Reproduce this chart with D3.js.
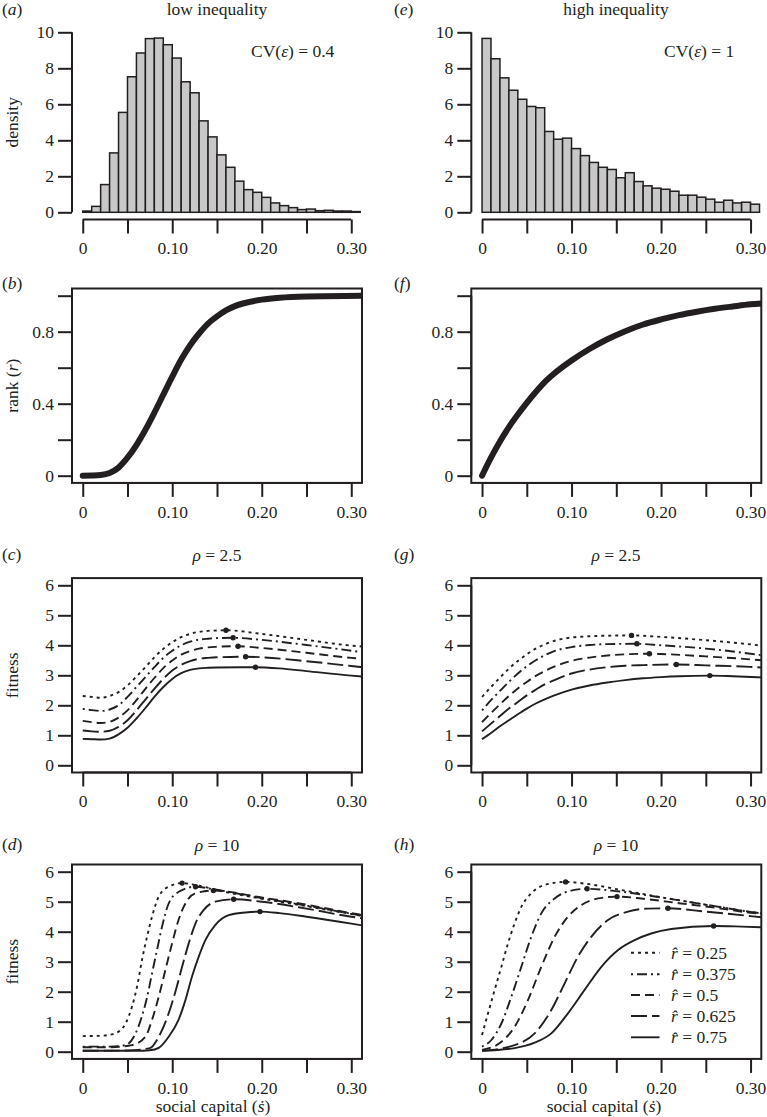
<html>
<script src="https://cdn.jsdelivr.net/npm/d3@7"></script>
<style>
body { margin: 0; background: #fff; }
text { font-family: "Liberation Serif", "DejaVu Serif", serif; fill: #231f20; }
</style>
<body>
</body>
<script>

// ---- data ----

var xTicks = [0, 0.05, 0.10, 0.15, 0.20, 0.25, 0.30];
var xTickLabels = ["0", "", "0.10", "", "0.20", "", "0.30"];
var histTicks = [0, 2, 4, 6, 8, 10];
var rankTicks = [0, 0.2, 0.4, 0.6, 0.8, 1.0];
var rankTickLabels = ["0", "", "0.4", "", "0.8", ""];
var fitTicks = [0, 1, 2, 3, 4, 5, 6];

// histogram bins (left edge, width 0.01)
var binLeft = [0, 0.01, 0.02, 0.03, 0.04, 0.05, 0.06, 0.07, 0.08, 0.09, 0.10, 0.11, 0.12, 0.13, 0.14, 0.15,
  0.16, 0.17, 0.18, 0.19, 0.20, 0.21, 0.22, 0.23, 0.24, 0.25, 0.26, 0.27, 0.28, 0.29, 0.30];
var binWidth = 0.01;
var densLow = [0.07, 0.33, 1.54, 3.3, 5.55, 7.53, 8.85, 9.65, 9.68, 9.31, 8.57, 7.25, 6.64, 5.08, 4.19, 3.19,
  2.5, 1.73, 1.26, 1.11, 0.83, 0.52, 0.37, 0.26, 0.15, 0.18, 0.09, 0.11, 0.07, 0.07, 0.04];
var densHigh = [9.66, 8.53, 7.47, 6.78, 6.28, 5.88, 5.81, 4.49, 4.06, 4.12, 3.54, 3.15, 2.77, 2.5, 2.38, 1.92,
  2.2, 1.71, 1.47, 1.34, 1.28, 1.17, 0.95, 0.95, 0.84, 0.73, 0.56, 0.67, 0.52, 0.56, 0.45];

// rank curves
var rankLowS = [0, 0.01, 0.02, 0.03, 0.04, 0.05, 0.06, 0.07, 0.08, 0.09, 0.10, 0.11, 0.12, 0.13, 0.14, 0.15, 0.16, 0.17, 0.18, 0.20, 0.22, 0.25, 0.312];
var rankLowR = [0, 0.001, 0.004, 0.015, 0.045, 0.1, 0.17, 0.255, 0.35, 0.45, 0.55, 0.645, 0.725, 0.79, 0.845, 0.885, 0.918, 0.942, 0.958, 0.978, 0.989, 0.996, 1.0];
var rankHighS = [0, 0.01, 0.02, 0.03, 0.04, 0.05, 0.06, 0.07, 0.08, 0.10, 0.12, 0.14, 0.16, 0.18, 0.20, 0.22, 0.24, 0.26, 0.28, 0.30, 0.312];
var rankHighR = [0, 0.1, 0.19, 0.27, 0.34, 0.405, 0.465, 0.52, 0.565, 0.64, 0.704, 0.758, 0.803, 0.84, 0.868, 0.892, 0.911, 0.927, 0.94, 0.952, 0.957];

var rHat = ["0.25", "0.375", "0.5", "0.625", "0.75"];

// fitness curves, [s, fitness] per r-hat
var fitC = [
  [[0,2.31],[0.01,2.28],[0.02,2.25],[0.03,2.31],[0.04,2.44],[0.05,2.66],[0.06,2.96],[0.07,3.27],[0.08,3.6],[0.09,3.88],[0.10,4.1],[0.11,4.27],[0.12,4.38],[0.13,4.45],[0.14,4.48],[0.16,4.50],[0.20,4.38],[0.25,4.18],[0.30,3.99],[0.312,3.96]],
  [[0,1.88],[0.01,1.84],[0.02,1.81],[0.03,1.86],[0.04,2.0],[0.05,2.28],[0.06,2.61],[0.07,2.94],[0.08,3.27],[0.09,3.58],[0.10,3.82],[0.11,4.0],[0.12,4.12],[0.13,4.19],[0.14,4.22],[0.15,4.24],[0.168,4.25],[0.20,4.18],[0.25,4.01],[0.30,3.82],[0.312,3.77]],
  [[0,1.48],[0.01,1.44],[0.02,1.41],[0.03,1.45],[0.04,1.59],[0.05,1.83],[0.06,2.17],[0.07,2.55],[0.08,2.91],[0.09,3.24],[0.10,3.49],[0.11,3.69],[0.12,3.81],[0.13,3.89],[0.14,3.93],[0.15,3.95],[0.1735,3.97],[0.20,3.91],[0.25,3.75],[0.30,3.58],[0.312,3.55]],
  [[0,1.16],[0.01,1.13],[0.02,1.12],[0.03,1.15],[0.04,1.28],[0.05,1.5],[0.06,1.83],[0.07,2.19],[0.08,2.55],[0.09,2.88],[0.10,3.16],[0.11,3.35],[0.12,3.47],[0.13,3.55],[0.14,3.58],[0.15,3.6],[0.182,3.62],[0.20,3.6],[0.25,3.47],[0.30,3.31],[0.312,3.27]],
  [[0,0.88],[0.01,0.87],[0.02,0.86],[0.03,0.89],[0.04,1.03],[0.05,1.25],[0.06,1.56],[0.07,1.91],[0.08,2.28],[0.09,2.61],[0.10,2.88],[0.11,3.07],[0.12,3.18],[0.13,3.23],[0.14,3.25],[0.15,3.26],[0.193,3.27],[0.22,3.23],[0.25,3.14],[0.30,2.99],[0.312,2.96]]
];
var fitD = [
  [[0,0.52],[0.02,0.53],[0.036,0.61],[0.048,0.95],[0.055,1.5],[0.0607,2.17],[0.0662,3.06],[0.0718,3.83],[0.0774,4.5],[0.0849,5.17],[0.096,5.5],[0.111,5.62],[0.13,5.53],[0.16,5.32],[0.20,5.1],[0.25,4.85],[0.30,4.59],[0.312,4.53]],
  [[0,0.17],[0.03,0.17],[0.048,0.22],[0.059,0.61],[0.066,1.17],[0.072,1.83],[0.0774,2.61],[0.083,3.39],[0.0886,4.17],[0.096,4.94],[0.1072,5.33],[0.126,5.50],[0.145,5.42],[0.20,5.12],[0.25,4.87],[0.30,4.6],[0.312,4.54]],
  [[0,0.15],[0.03,0.15],[0.055,0.22],[0.07,0.5],[0.0774,1.06],[0.0849,1.83],[0.0923,2.72],[0.0998,3.61],[0.107,4.39],[0.1147,4.94],[0.126,5.28],[0.146,5.37],[0.20,5.14],[0.25,4.9],[0.30,4.62],[0.312,4.56]],
  [[0,0.03],[0.05,0.04],[0.075,0.12],[0.0849,0.5],[0.096,1.28],[0.1035,2.0],[0.111,2.83],[0.1184,3.61],[0.126,4.28],[0.135,4.72],[0.148,5.0],[0.1686,5.08],[0.20,5.0],[0.25,4.77],[0.30,4.5],[0.312,4.45]],
  [[0,0.03],[0.06,0.03],[0.075,0.05],[0.0849,0.13],[0.096,0.5],[0.107,1.06],[0.1147,1.72],[0.122,2.5],[0.1296,3.17],[0.137,3.72],[0.148,4.22],[0.163,4.55],[0.1817,4.64],[0.198,4.67],[0.22,4.62],[0.25,4.5],[0.30,4.27],[0.312,4.21]]
];
var fitG = [
  [[0,2.28],[0.01,2.61],[0.02,2.92],[0.03,3.22],[0.04,3.48],[0.05,3.7],[0.06,3.89],[0.07,4.03],[0.08,4.14],[0.10,4.26],[0.12,4.3],[0.14,4.32],[0.167,4.33],[0.20,4.28],[0.25,4.17],[0.30,4.03],[0.312,3.99]],
  [[0,1.83],[0.01,2.17],[0.02,2.48],[0.03,2.78],[0.04,3.06],[0.05,3.3],[0.06,3.5],[0.07,3.67],[0.08,3.8],[0.10,3.94],[0.12,4.01],[0.14,4.04],[0.173,4.05],[0.20,4.0],[0.25,3.89],[0.30,3.72],[0.312,3.67]],
  [[0,1.44],[0.01,1.74],[0.02,2.03],[0.03,2.31],[0.04,2.56],[0.05,2.78],[0.06,2.98],[0.07,3.14],[0.08,3.28],[0.10,3.48],[0.12,3.59],[0.14,3.66],[0.16,3.70],[0.187,3.72],[0.20,3.71],[0.25,3.63],[0.30,3.53],[0.312,3.5]],
  [[0,1.13],[0.01,1.39],[0.02,1.64],[0.03,1.89],[0.04,2.11],[0.05,2.33],[0.06,2.52],[0.07,2.7],[0.08,2.83],[0.10,3.06],[0.12,3.19],[0.14,3.27],[0.16,3.32],[0.18,3.34],[0.217,3.36],[0.25,3.33],[0.30,3.28],[0.312,3.26]],
  [[0,0.87],[0.01,1.08],[0.02,1.3],[0.03,1.5],[0.04,1.7],[0.05,1.89],[0.06,2.06],[0.07,2.2],[0.08,2.32],[0.10,2.52],[0.12,2.66],[0.14,2.76],[0.16,2.84],[0.18,2.9],[0.20,2.94],[0.22,2.97],[0.2545,2.99],[0.28,2.97],[0.312,2.93]]
];
var fitH = [
  [[0,0.56],[0.0067,1.28],[0.0141,2.06],[0.0216,2.83],[0.029,3.61],[0.0364,4.28],[0.0439,4.83],[0.055,5.28],[0.07,5.56],[0.0934,5.66],[0.118,5.59],[0.1556,5.39],[0.20,5.15],[0.25,4.9],[0.30,4.66],[0.312,4.61]],
  [[0,0.17],[0.0104,0.39],[0.0216,0.94],[0.0327,1.83],[0.0439,2.83],[0.055,3.83],[0.0662,4.61],[0.0811,5.11],[0.0997,5.37],[0.1173,5.43],[0.145,5.37],[0.20,5.14],[0.25,4.9],[0.30,4.66],[0.312,4.61]],
  [[0,0.06],[0.0216,0.33],[0.0364,0.83],[0.0513,1.72],[0.0662,2.83],[0.0811,3.83],[0.096,4.5],[0.111,4.89],[0.1296,5.11],[0.1508,5.17],[0.18,5.1],[0.22,4.95],[0.26,4.8],[0.30,4.63],[0.312,4.59]],
  [[0,0.03],[0.0364,0.22],[0.0588,0.61],[0.0774,1.39],[0.0923,2.28],[0.1072,3.17],[0.122,3.83],[0.1407,4.39],[0.163,4.67],[0.1854,4.77],[0.2077,4.78],[0.25,4.67],[0.30,4.52],[0.312,4.48]],
  [[0,0.03],[0.0364,0.12],[0.0588,0.3],[0.0774,0.61],[0.096,1.28],[0.1146,2.06],[0.1333,2.83],[0.152,3.39],[0.1705,3.72],[0.189,3.94],[0.2114,4.09],[0.2587,4.19],[0.29,4.17],[0.312,4.15]]
];

// optimum points marked on each curve
var peakC = [[0.16,4.50],[0.168,4.25],[0.1735,3.97],[0.182,3.62],[0.193,3.27]];
var peakD = [[0.111,5.62],[0.126,5.50],[0.146,5.37],[0.1686,5.08],[0.198,4.67]];
var peakG = [[0.167,4.33],[0.173,4.05],[0.187,3.72],[0.217,3.36],[0.2545,2.99]];
var peakH = [[0.0934,5.66],[0.1173,5.43],[0.1508,5.17],[0.2077,4.78],[0.2587,4.19]];

// ---- drawing ----

var ink = "#231f20";
var fontSize = 17.5;
var dashes = ["3,4", "2,4,10,4", "9,5", "16,5", null];

var svg = d3.select("body").append("svg")
	.attr("width", 767)
	.attr("height", 1117);

var colRange = [[72, 362], [471.3, 761.3]];
var rowTop = [25.1, 288.5, 578.1, 864.5];
var rowH = 194.4;

function xScale(col) {
	return d3.scaleLinear().domain([-0.012, 0.312]).range(colRange[col]);
}
function yScale(row, lo, hi) {
	return d3.scaleLinear().domain([lo, hi]).range([rowTop[row] + rowH, rowTop[row]]);
}

function styleAxis(a) {
	a.attr("font-family", "Liberation Serif, serif")
		.attr("font-size", fontSize)
		.attr("color", ink);
	a.selectAll(".tick line").attr("stroke-width", 2);
	a.select(".domain").remove();
}

function xAxis(x, yPos) {
	var a = svg.append("g")
		.attr("transform", "translate(0," + yPos + ")")
		.call(d3.axisBottom(x).tickValues(xTicks).tickSize(14).tickPadding(8.5)
			.tickFormat(function(d, i) { return xTickLabels[i]; }));
	styleAxis(a);
	a.append("line")
		.attr("x1", x(xTicks[0])).attr("x2", x(xTicks[xTicks.length - 1]))
		.attr("stroke", ink).attr("stroke-width", 2);
}

function yAxis(y, xPos, ticks, labels) {
	var a = svg.append("g")
		.attr("transform", "translate(" + xPos + ",0)")
		.call(d3.axisLeft(y).tickValues(ticks).tickSize(14).tickPadding(4)
			.tickFormat(function(d, i) { return labels ? labels[i] : String(d); }));
	styleAxis(a);
	a.append("line")
		.attr("y1", y(ticks[0])).attr("y2", y(ticks[ticks.length - 1]))
		.attr("stroke", ink).attr("stroke-width", 2);
}

function box(x, y) {
	svg.append("rect")
		.attr("x", x.range()[0]).attr("y", y.range()[1])
		.attr("width", x.range()[1] - x.range()[0])
		.attr("height", y.range()[0] - y.range()[1])
		.attr("fill", "none").attr("stroke", ink).attr("stroke-width", 2);
}

var clipN = 0;
function clip(x, y) {
	var id = "clip" + (clipN++);
	svg.append("clipPath").attr("id", id).append("rect")
		.attr("x", x.range()[0]).attr("y", y.range()[1])
		.attr("width", x.range()[1] - x.range()[0])
		.attr("height", y.range()[0] - y.range()[1]);
	return "url(#" + id + ")";
}

function panelLabel(letter, xPos, yPos) {
	var t = svg.append("text").attr("x", xPos).attr("y", yPos).attr("font-size", fontSize);
	t.append("tspan").text("(");
	t.append("tspan").attr("font-style", "italic").text(letter);
	t.append("tspan").text(")");
}

function title(xc, yPos, parts) {
	var t = svg.append("text").attr("x", xc).attr("y", yPos)
		.attr("font-size", fontSize).attr("text-anchor", "middle");
	parts.forEach(function(p) {
		t.append("tspan").attr("font-style", p[1] ? "italic" : "normal").text(p[0]);
	});
	return t;
}

function yLabel(y, parts) {
	var yc = (y.range()[0] + y.range()[1]) / 2;
	var t = svg.append("text")
		.attr("transform", "translate(18," + yc + ") rotate(-90)")
		.attr("font-size", fontSize).attr("text-anchor", "middle");
	parts.forEach(function(p) {
		t.append("tspan").attr("font-style", p[1] ? "italic" : "normal").text(p[0]);
	});
}

// histogram panels (a), (e)
function histPanel(col, dens) {
	var x = xScale(col);
	var y = yScale(0, -0.4, 10.4);
	svg.append("g").selectAll("rect")
		.data(dens)
		.enter().append("rect")
		.attr("x", function(d, i) { return x(binLeft[i]); })
		.attr("width", function(d, i) { return x(binLeft[i] + binWidth) - x(binLeft[i]); })
		.attr("y", function(d) { return y(d); })
		.attr("height", function(d) { return y(0) - y(d); })
		.attr("fill", "#c8c8c8")
		.attr("stroke", ink)
		.attr("stroke-width", 1.5);
	xAxis(x, y.range()[0]);
	yAxis(y, x.range()[0], histTicks, null);
	return { x: x, y: y };
}

// rank panels (b), (f)
function rankPanel(col, sv, rv) {
	var x = xScale(col);
	var y = yScale(1, -0.04, 1.04);
	var line = d3.line()
		.x(function(d, i) { return x(sv[i]); })
		.y(function(d) { return y(d); })
		.curve(d3.curveMonotoneX);
	svg.append("path")
		.datum(rv)
		.attr("clip-path", clip(x, y))
		.attr("d", line)
		.attr("fill", "none")
		.attr("stroke", ink)
		.attr("stroke-width", 6)
		.attr("stroke-linecap", "round");
	box(x, y);
	xAxis(x, y.range()[0]);
	yAxis(y, x.range()[0], rankTicks, rankTickLabels);
	return { x: x, y: y };
}

// fitness panels (c), (d), (g), (h)
function fitPanel(col, row, curves, peaks) {
	var x = xScale(col);
	var y = yScale(row, -0.24, 6.24);
	var line = d3.line()
		.x(function(d) { return x(d[0]); })
		.y(function(d) { return y(d[1]); })
		.curve(d3.curveMonotoneX);
	var g = svg.append("g").attr("clip-path", clip(x, y));
	g.selectAll("path")
		.data(curves)
		.enter().append("path")
		.attr("d", line)
		.attr("fill", "none")
		.attr("stroke", ink)
		.attr("stroke-width", 1.9)
		.attr("stroke-dasharray", function(d, i) { return dashes[i]; });
	g.selectAll("circle")
		.data(peaks)
		.enter().append("circle")
		.attr("cx", function(d) { return x(d[0]); })
		.attr("cy", function(d) { return y(d[1]); })
		.attr("r", 2.7)
		.attr("fill", ink);
	box(x, y);
	xAxis(x, y.range()[0]);
	yAxis(y, x.range()[0], fitTicks, null);
	return { x: x, y: y };
}

var pa = histPanel(0, densLow);
var pe = histPanel(1, densHigh);
var pb = rankPanel(0, rankLowS, rankLowR);
var pf = rankPanel(1, rankHighS, rankHighR);
var pc = fitPanel(0, 2, fitC, peakC);
var pg = fitPanel(1, 2, fitG, peakG);
var pd = fitPanel(0, 3, fitD, peakD);
var ph = fitPanel(1, 3, fitH, peakH);

// text
panelLabel("a", 2, 15);
panelLabel("e", 394, 15);
panelLabel("b", 2, 289);
panelLabel("f", 394, 289);
panelLabel("c", 2, 560);
panelLabel("g", 394, 560);
panelLabel("d", 2, 850);
panelLabel("h", 394, 850);

title(217, 15, [["low inequality", false]]);
title(616, 15, [["high inequality", false]]);

svg.append("text").attr("x", 251).attr("y", 57).attr("font-size", fontSize)
	.call(function(t) {
		t.append("tspan").text("CV(");
		t.append("tspan").attr("font-style", "italic").text("ε");
		t.append("tspan").text(") = 0.4");
	});
svg.append("text").attr("x", 664).attr("y", 57).attr("font-size", fontSize)
	.call(function(t) {
		t.append("tspan").text("CV(");
		t.append("tspan").attr("font-style", "italic").text("ε");
		t.append("tspan").text(") = 1");
	});

title(217, 561, [["ρ", true], [" = 2.5", false]]);
title(616, 561, [["ρ", true], [" = 2.5", false]]);
title(217, 851, [["ρ", true], [" = 10", false]]);
title(616, 851, [["ρ", true], [" = 10", false]]);

yLabel(pa.y, [["density", false]]);
yLabel(pb.y, [["rank (", false], ["r", true], [")", false]]);
yLabel(pc.y, [["fitness", false]]);
yLabel(pd.y, [["fitness", false]]);

title(213, 1112, [["social capital (", false], ["ṡ", true], [")", false]]);
title(604, 1112, [["social capital (", false], ["ṡ", true], [")", false]]);

// legend in (h)
var legendY = [952.7, 974.3, 995, 1016, 1037.3];
var leg = svg.append("g");
rHat.forEach(function(r, i) {
	leg.append("line")
		.attr("x1", 631).attr("x2", 659.5)
		.attr("y1", legendY[i]).attr("y2", legendY[i])
		.attr("stroke", ink).attr("stroke-width", 1.9)
		.attr("stroke-dasharray", dashes[i]);
	var t = leg.append("text").attr("x", 671).attr("y", legendY[i] + 6).attr("font-size", fontSize);
	t.append("tspan").attr("font-style", "italic").text("r\u0302");
	t.append("tspan").text(" = " + r);
});

</script>
</html>
